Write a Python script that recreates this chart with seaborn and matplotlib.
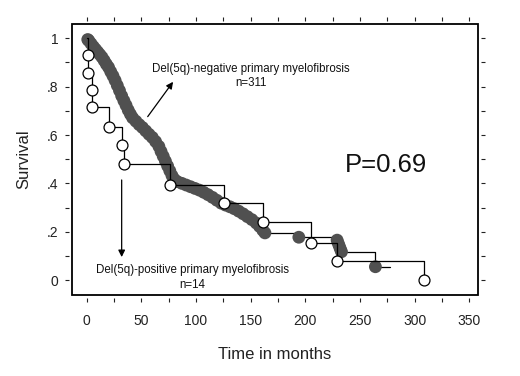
import matplotlib
matplotlib.use("Agg")
import matplotlib.pyplot as plt
import seaborn as sns
import pandas as pd
from matplotlib.ticker import MultipleLocator, FixedLocator

# Del(5q)-negative PMF, n=311 (filled dots)
neg_time = [0, 1, 2, 4, 6, 8, 10, 12, 14, 16, 18, 20, 22, 24, 26, 28, 30, 32, 34, 36,
            38, 40, 42, 45, 48, 51, 54, 57, 60, 63, 66, 68, 70, 72, 74, 76, 78, 80,
            83, 87, 91, 95, 99, 103, 107, 111, 115, 119, 123, 127, 131, 135, 139,
            143, 147, 151, 155, 158, 161, 163, 194, 229, 230, 231, 232, 233, 264]
neg_surv = [1.0, 0.995, 0.99, 0.978, 0.966, 0.955, 0.944, 0.933, 0.922, 0.908, 0.893,
            0.88, 0.862, 0.845, 0.826, 0.805, 0.784, 0.762, 0.742, 0.723, 0.703, 0.686,
            0.671, 0.657, 0.643, 0.631, 0.617, 0.603, 0.59, 0.573, 0.553, 0.532, 0.512,
            0.492, 0.472, 0.452, 0.432, 0.417, 0.407, 0.4, 0.393, 0.386, 0.379, 0.372,
            0.363, 0.353, 0.342, 0.33, 0.318, 0.31, 0.303, 0.295, 0.285, 0.274, 0.262,
            0.25, 0.236, 0.222, 0.206, 0.195, 0.177, 0.165, 0.152, 0.14, 0.128, 0.117,
            0.055]
neg_last = 277  # last follow-up (censored)

# Del(5q)-positive PMF, n=14 (open circles)
pos_time = [0, 1.5, 1.5, 4.5, 4.5, 20, 32, 34, 76, 126, 161, 205, 229, 308]
pos_surv = [1.0, 0.929, 0.857, 0.786, 0.714, 0.634, 0.557, 0.478, 0.395, 0.32,
            0.238, 0.154, 0.077, 0.0]

xticks = [0, 50, 100, 150, 200, 250, 300, 350]
yticks = [0, 0.2, 0.4, 0.6, 0.8, 1.0]
ylabels = ['0', '.2', '.4', '.6', '.8', '1']

sns.set_theme(style='white')
plt.rcParams['font.family'] = ['Liberation Sans', 'DejaVu Sans']

fig = plt.figure(figsize=(5.2, 3.76), dpi=100)
ax = fig.add_axes([0.1385, 0.2154, 0.7805, 0.7206])

neg = pd.DataFrame({'time': neg_time + [neg_last], 'surv': neg_surv + [neg_surv[-1]]})
pos = pd.DataFrame({'time': pos_time, 'surv': pos_surv})

# negative curve: step line + dense filled dots
sns.lineplot(data=neg, x='time', y='surv', drawstyle='steps-post', color='black',
             lw=0.9, estimator=None, sort=False, ax=ax)
sns.scatterplot(data=neg.iloc[1:-1], x='time', y='surv', color='#505050', s=85,
                edgecolor='none', ax=ax, zorder=3)

# positive curve: step line + open circles
sns.lineplot(data=pos, x='time', y='surv', drawstyle='steps-post', color='black',
             lw=0.9, estimator=None, sort=False, ax=ax, zorder=4)
sns.scatterplot(data=pos.iloc[1:], x='time', y='surv', color='white', s=62,
                edgecolor='black', linewidth=0.9, ax=ax, zorder=5)

ax.set_xlim(-13.4, 357.7)
ax.set_ylim(-0.062, 1.059)

# frame drawn by the axes patch, ticks sit a bit outside it
ax.patch.set_edgecolor('black')
ax.patch.set_linewidth(1.3)
for s in ax.spines.values():
    s.set_position(('outward', 2))
    s.set_visible(False)

ax.xaxis.set_major_locator(FixedLocator(xticks))
ax.xaxis.set_minor_locator(MultipleLocator(25))
ax.yaxis.set_major_locator(FixedLocator(yticks))
ax.yaxis.set_minor_locator(MultipleLocator(0.1))
ax.set_yticklabels(ylabels)
ax.tick_params(which='both', direction='out', bottom=True, left=True, top=True,
               right=True, length=3, width=0.8, color='#222222')
ax.tick_params(axis='x', which='major', pad=9, labelsize=10, labelcolor='#222222')
ax.tick_params(axis='y', which='major', pad=5, labelsize=10, labelcolor='#222222')

ax.set_xlabel('Time in months', fontsize=12, color='#222222', labelpad=13)
ax.set_ylabel('Survival', fontsize=12, color='#222222', labelpad=11)

ax.text(274, 0.476, 'P=0.69', fontsize=18.5, ha='center', va='center', color='#111111')

ax.text(150, 0.875, 'Del(5q)-negative primary myelofibrosis', fontsize=8.3,
        ha='center', va='center', color='#111111')
ax.text(150, 0.817, 'n=311', fontsize=8.3, ha='center', va='center', color='#111111')
ax.annotate('', xy=(79, 0.82), xytext=(55.8, 0.676),
            arrowprops=dict(arrowstyle='-|>', color='black', lw=0.9,
                            mutation_scale=10, shrinkA=0, shrinkB=0))

ax.text(97, 0.041, 'Del(5q)-positive primary myelofibrosis', fontsize=8.3,
        ha='center', va='center', color='#111111')
ax.text(97, -0.021, 'n=14', fontsize=8.3, ha='center', va='center', color='#111111')
ax.annotate('', xy=(32, 0.095), xytext=(32, 0.414),
            arrowprops=dict(arrowstyle='-|>', color='black', lw=0.9,
                            mutation_scale=10, shrinkA=0, shrinkB=0))

fig.savefig('out.png', dpi=100)
